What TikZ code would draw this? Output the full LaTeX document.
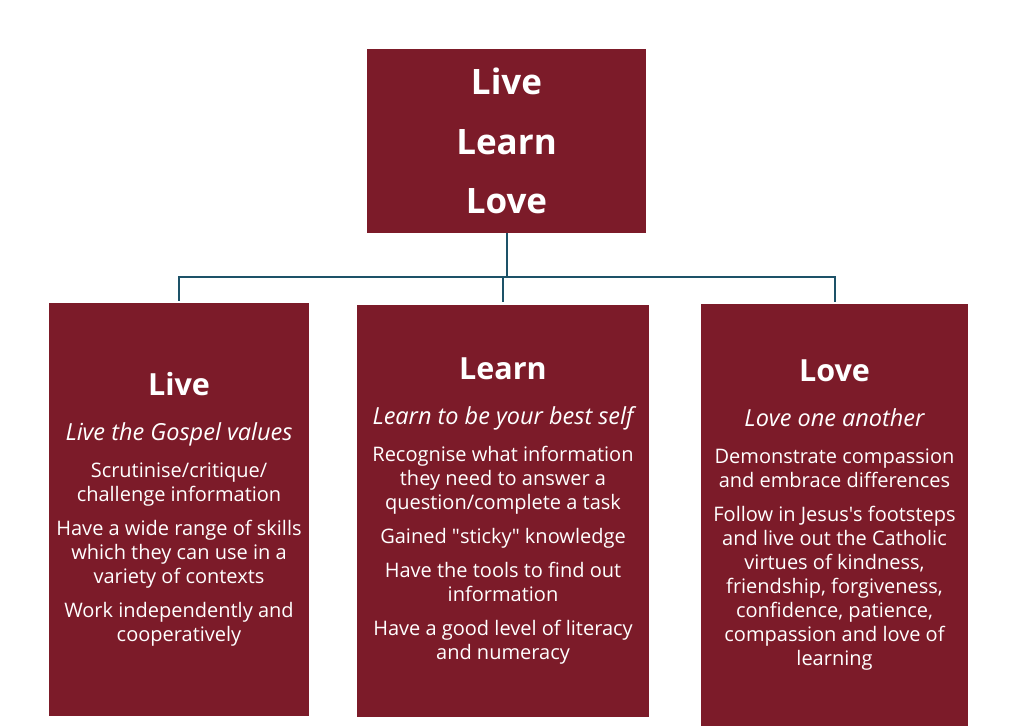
\documentclass[tikz,border=0pt]{standalone}
\usepackage{fontspec}
\setmainfont{Open Sans}
\usetikzlibrary{positioning}
\definecolor{maroon}{RGB}{124,27,41}
\definecolor{linkblue}{RGB}{29,82,104}
\newcommand{\boxtitle}[1]{{\fontsize{30.5}{24}\selectfont\bfseries #1}}
\newcommand{\motto}[1]{{\fontsize{23.5}{24}\selectfont\itshape #1}}

\begin{document}
\begin{tikzpicture}[x=1pt,y=1pt,
  box/.style={fill=maroon, text=white, align=center, inner sep=0pt,
    font=\fontsize{20}{24}\selectfont},
  link/.style={draw=linkblue, line width=2pt}]
\useasboundingbox (0,0) rectangle (1024,726);

\node[box, minimum width=279, minimum height=184,
  font=\fontsize{35}{59.5}\selectfont\bfseries] (top) at (506.5,585)
  {Live\\Learn\\Love};

\node[box, minimum width=260, minimum height=413] (live) at (179,216.5)
  {\boxtitle{Live}\\[21pt]
   \motto{Live the Gospel values}\\[13pt]
   Scrutinise/critique/\\
   challenge information\\[10pt]
   Have a wide range of skills\\
   which they can use in a\\
   variety of contexts\\[10pt]
   Work independently and\\
   cooperatively};

\node[box, minimum width=292, minimum height=412] (learn) at (503,215)
  {\boxtitle{Learn}\\[21pt]
   \motto{Learn to be your best self}\\[13pt]
   Recognise what information\\
   they need to answer a\\
   question/complete a task\\[10pt]
   Gained \textquotedbl sticky\textquotedbl\ knowledge\\[10pt]
   Have the tools to find out\\
   information\\[10pt]
   Have a good level of literacy\\
   and numeracy};

\node[box, minimum width=267, minimum height=422] (love) at (834.5,211)
  {\boxtitle{Love}\\[21pt]
   \motto{Love one another}\\[13pt]
   Demonstrate compassion\\
   and embrace differences\\[10pt]
   Follow in Jesus\textquotesingle s footsteps\\
   and live out the Catholic\\
   virtues of kindness,\\
   friendship, forgiveness,\\
   confidence, patience,\\
   compassion and love of\\
   learning};

% tree lines
\draw[link] (top.south) -- ++(0,-44) coordinate (hub);
\draw[link] ([yshift=2]live.north) |- (hub) -| ([yshift=2]love.north);
\draw[link] (hub -| learn.north) -- ([yshift=3]learn.north);
\end{tikzpicture}
\end{document}
